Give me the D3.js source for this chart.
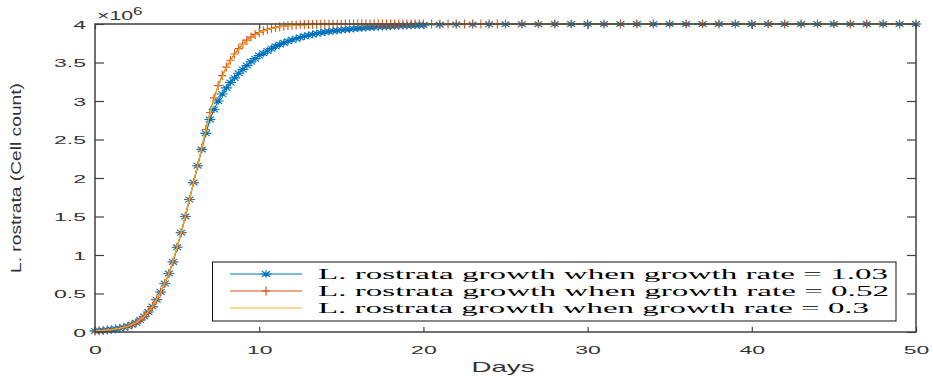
<!DOCTYPE html>
<html>
<head>
<meta charset="utf-8">
<script src="https://cdn.jsdelivr.net/npm/d3@7"></script>
<style>
  html, body { margin: 0; padding: 0; background: #fff; }
  svg { display: block; }
</style>
</head>
<body>
<svg id="chart" width="933" height="376"></svg>
<script>
// Time grid (days) shared by the dense part of the solver output
const daysFine = [0, 0.25, 0.5, 0.75, 1, 1.25, 1.5, 1.75, 2, 2.25, 2.5, 2.75, 3, 3.25, 3.5, 3.75,
  4, 4.25, 4.5, 4.75, 5, 5.25, 5.5, 5.75, 6, 6.25, 6.5, 6.75, 7, 7.25, 7.5, 7.75,
  8, 8.25, 8.5, 8.75, 9, 9.25, 9.5, 9.75, 10, 10.25, 10.5, 10.75, 11, 11.25, 11.5, 11.75,
  12, 12.25, 12.5, 12.75, 13, 13.25, 13.5, 13.75, 14, 14.25, 14.5, 14.75, 15, 15.25, 15.5, 15.75,
  16, 16.25, 16.5, 16.75, 17, 17.25, 17.5, 17.75, 18, 18.25, 18.5, 18.75, 19, 19.25, 19.5, 19.75, 20];
const daysCoarse = [21, 22, 23, 24, 25, 26, 27, 28, 29, 30, 31, 32, 33, 34, 35, 36, 37, 38, 39, 40,
  41, 42, 43, 44, 45, 46, 47, 48, 49, 50];
const daysOrangeMid = [20.5, 21, 21.5, 22, 22.5, 23, 23.5, 24, 24.5, 25];
const daysOrangeTail = [26, 27, 28, 29, 30, 31, 32, 33, 34, 35, 36, 37, 38, 39, 40, 41, 42, 43, 44, 45,
  46, 47, 48, 49, 50];
const daysYellow = [0, 0.5, 1, 1.5, 2, 2.5, 3, 3.5, 4, 4.5, 5, 5.5, 6, 6.5, 7, 7.5, 8, 8.5, 9, 9.5,
  10, 10.5, 11, 11.5, 12, 12.5, 13, 13.5, 14, 16, 18, 20, 25, 30, 40, 50];

// Cell count in units of 10^6
const blueFine = [0.014, 0.017, 0.021, 0.026, 0.032, 0.039, 0.048, 0.06, 0.075, 0.095, 0.12, 0.155,
  0.2, 0.26, 0.33, 0.42, 0.52, 0.63, 0.76, 0.91, 1.1, 1.29, 1.5, 1.72, 1.94, 2.16, 2.37, 2.58,
  2.76, 2.89, 3.0, 3.09, 3.17, 3.24, 3.3, 3.36, 3.41, 3.46, 3.51, 3.55, 3.59, 3.62, 3.65, 3.68,
  3.71, 3.735, 3.755, 3.775, 3.795, 3.81, 3.825, 3.84, 3.853, 3.865, 3.876, 3.886, 3.895, 3.903,
  3.91, 3.917, 3.923, 3.929, 3.934, 3.939, 3.944, 3.948, 3.952, 3.956, 3.96, 3.963, 3.966, 3.969,
  3.972, 3.974, 3.976, 3.978, 3.98, 3.982, 3.984, 3.986, 3.987];
const blueCoarse = [3.99, 3.993, 3.995, 3.996, 3.997, 3.998, 3.998, 3.999, 4, 4, 4, 4, 4, 4, 4, 4,
  4, 4, 4, 4, 4, 4, 4, 4, 4, 4, 4, 4, 4, 4];
const orangeFine = [0.014, 0.017, 0.021, 0.026, 0.032, 0.039, 0.048, 0.06, 0.075, 0.095, 0.12, 0.155,
  0.2, 0.26, 0.33, 0.42, 0.52, 0.63, 0.76, 0.91, 1.1, 1.29, 1.5, 1.72, 1.94, 2.16, 2.39, 2.63,
  2.85, 3.04, 3.2, 3.33, 3.44, 3.53, 3.61, 3.68, 3.74, 3.79, 3.83, 3.865, 3.89, 3.912, 3.93, 3.945,
  3.956, 3.965, 3.972, 3.978, 3.983, 3.987, 3.99, 3.992, 3.994, 3.995, 3.996, 3.997, 3.998, 3.998,
  3.998, 3.998, 3.998, 3.999, 3.999, 3.999, 3.999, 3.999, 3.999, 3.999, 3.999, 4, 4, 4,
  4, 4, 4, 4, 4, 4, 4, 4, 4];
const orangeMid = [4, 4, 4, 4, 4, 4, 4, 4, 4, 4];
const orangeTail = [4, 4, 4, 4, 4, 4, 4, 4, 4, 4, 4, 4, 4, 4, 4, 4, 4, 4, 4, 4, 4, 4, 4, 4, 4];
const yellowValues = [0.014, 0.021, 0.032, 0.048, 0.075, 0.12, 0.2, 0.33, 0.52, 0.76, 1.1, 1.5, 1.94,
  2.39, 2.84, 3.19, 3.43, 3.6, 3.73, 3.82, 3.885, 3.928, 3.955, 3.971, 3.982, 3.989, 3.993, 3.996,
  3.997, 3.999, 4, 4, 4, 4, 4, 4];

const xTicks = [0, 10, 20, 30, 40, 50];
const yTicks = [0, 0.5, 1, 1.5, 2, 2.5, 3, 3.5, 4];
const yTickLabels = ["0", "0.5", "1", "1.5", "2", "2.5", "3", "3.5", "4"];
const legendLabels = [
  "L. rostrata growth when growth rate = 1.03",
  "L. rostrata growth when growth rate = 0.52",
  "L. rostrata growth when growth rate = 0.3"
];

const zip = (xs, ys) => xs.map((d, i) => [d, ys[i]]);
const series = [
  { points: zip(daysFine.concat(daysCoarse), blueFine.concat(blueCoarse)), color: "#0072BD", marker: "star" },
  { points: zip(daysFine.concat(daysOrangeMid, daysOrangeTail), orangeFine.concat(orangeMid, orangeTail)), color: "#D95319", marker: "plus" },
  { points: zip(daysYellow, yellowValues), color: "#EDB120", marker: null }
];

const svg = d3.select("#chart");
const plotLeft = 95, plotRight = 916, plotTop = 24, plotBottom = 332;
const axisColor = "#404040";

const x = d3.scaleLinear().domain([0, 50]).range([plotLeft, plotRight]);
const y = d3.scaleLinear().domain([0, 4]).range([plotBottom, plotTop]);

const markerPath = {
  star: "M-5.5,0H5.5M0,-3.8V3.8M-4,-2.8L4,2.8M-4,2.8L4,-2.8",
  plus: "M-4,0H4M0,-4.5V4.5"
};

// Axes: ticks pointing inward, box on all sides
const xAxis = svg.append("g").attr("transform", `translate(0,${plotBottom})`)
  .call(d3.axisBottom(x).tickValues(xTicks).tickSizeInner(-5).tickSizeOuter(0));
xAxis.selectAll("text")
  .attr("y", 0).attr("dy", 0)
  .attr("transform", "translate(0,21.5) scale(2,1)")
  .style("font-family", "'Liberation Sans', Arial, sans-serif")
  .style("font-size", "11.5px")
  .attr("fill", "#333");

const yAxis = svg.append("g").attr("transform", `translate(${plotLeft},0)`)
  .call(d3.axisLeft(y).tickValues(yTicks).tickFormat((d, i) => yTickLabels[i]).tickSizeInner(-9).tickSizeOuter(0));
yAxis.selectAll("text")
  .attr("x", 0).attr("dy", "0.36em")
  .attr("transform", "translate(-9,0) scale(2,1)")
  .style("font-family", "'Liberation Sans', Arial, sans-serif")
  .style("font-size", "11.5px")
  .attr("fill", "#333");

svg.append("g").attr("transform", `translate(0,${plotTop})`)
  .call(d3.axisTop(x).tickValues(xTicks).tickFormat("").tickSizeInner(-5).tickSizeOuter(0));
svg.append("g").attr("transform", `translate(${plotRight},0)`)
  .call(d3.axisRight(y).tickValues(yTicks).tickFormat("").tickSizeInner(-9).tickSizeOuter(0));

svg.selectAll(".domain").remove();
svg.selectAll(".tick line").attr("stroke", axisColor).attr("stroke-width", 1.2);

// Curves
const line = d3.line().x(d => x(d[0])).y(d => y(d[1]));
series.forEach(s => {
  svg.append("path")
    .datum(s.points)
    .attr("d", line)
    .attr("fill", "none")
    .attr("stroke", s.color)
    .attr("stroke-width", 1.2);
  if (s.marker) {
    svg.append("g").selectAll("path")
      .data(s.points)
      .join("path")
      .attr("transform", d => `translate(${x(d[0])},${y(d[1])})`)
      .attr("d", markerPath[s.marker])
      .attr("fill", "none")
      .attr("stroke", s.color)
      .attr("stroke-width", 1.1);
  }
});

// Plot box
svg.append("rect")
  .attr("x", plotLeft).attr("y", plotTop)
  .attr("width", plotRight - plotLeft).attr("height", plotBottom - plotTop)
  .attr("fill", "none")
  .attr("stroke", axisColor)
  .attr("stroke-width", 1.5);

// Exponent label
const expo = svg.append("text")
  .attr("transform", "translate(97,20) scale(1.7,1)")
  .style("font-family", "'Liberation Sans', Arial, sans-serif")
  .style("font-size", "12.5px")
  .attr("fill", "#333");
expo.append("tspan").text("\u00d710");
expo.append("tspan").attr("dy", -5).style("font-size", "10px").text("6");

// Axis labels
svg.append("text")
  .attr("x", 503).attr("y", 372)
  .attr("text-anchor", "middle")
  .attr("textLength", 63).attr("lengthAdjust", "spacingAndGlyphs")
  .style("font-family", "'Liberation Sans', Arial, sans-serif")
  .style("font-size", "15px")
  .attr("fill", "#333")
  .text("Days");

svg.append("text")
  .attr("transform", "translate(21,178) rotate(-90)")
  .attr("text-anchor", "middle")
  .attr("textLength", 190).attr("lengthAdjust", "spacingAndGlyphs")
  .style("font-family", "'Liberation Sans', Arial, sans-serif")
  .style("font-size", "14px")
  .attr("fill", "#333")
  .text("L. rostrata (Cell count)");

// Legend
const legend = svg.append("g");
legend.append("rect")
  .attr("x", 212.5).attr("y", 262)
  .attr("width", 896 - 212.5).attr("height", 59)
  .attr("fill", "#fff")
  .attr("stroke", "#111")
  .attr("stroke-width", 1);
const rowY = [274, 291, 308];
const textLen = [570, 571, 551];
series.forEach((s, i) => {
  const g = legend.append("g").attr("transform", `translate(0,${rowY[i]})`);
  g.append("line").attr("x1", 230).attr("x2", 302).attr("y1", 0).attr("y2", 0)
    .attr("stroke", s.color).attr("stroke-width", 1);
  if (s.marker) {
    g.append("path").attr("transform", "translate(266,0)")
      .attr("d", markerPath[s.marker]).attr("fill", "none")
      .attr("stroke", s.color).attr("stroke-width", 1.2);
  }
  g.append("text")
    .attr("x", 318).attr("y", 5)
    .attr("textLength", textLen[i]).attr("lengthAdjust", "spacingAndGlyphs")
    .style("font-family", "'Liberation Serif', 'Times New Roman', serif")
    .style("font-size", "15px")
    .attr("fill", "#000")
    .text(legendLabels[i]);
});
</script>
</body>
</html>
